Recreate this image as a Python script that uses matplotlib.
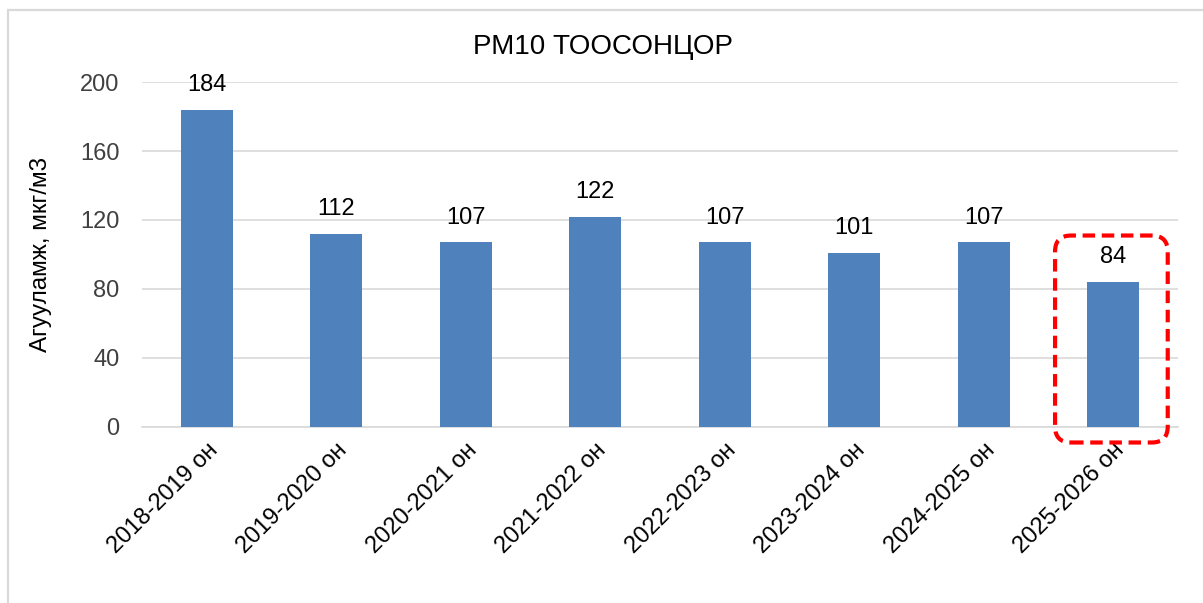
import matplotlib
matplotlib.use("Agg")
import matplotlib.pyplot as plt
from matplotlib.patches import FancyBboxPatch, Rectangle
from matplotlib.transforms import IdentityTransform

# Datos del gráfico
seasons = ["2018-2019 он", "2019-2020 он", "2020-2021 он", "2021-2022 он",
           "2022-2023 он", "2023-2024 он", "2024-2025 он", "2025-2026 он"]
pm10 = [184, 112, 107, 122, 107, 101, 107, 84]
y_ticks = [0, 40, 80, 120, 160, 200]

plt.rcParams["font.family"] = ["Liberation Sans", "DejaVu Sans"]

fig = plt.figure(figsize=(12.03, 6.03), dpi=100)
ax = fig.add_axes([0.118, 0.2919, 0.8613, 0.5721])

x = range(len(seasons))
ax.bar(x, pm10, width=0.4, color="#4f81bd", zorder=3)

# etiquetas de valores sobre las barras
for i, v in zip(x, pm10):
    ax.annotate(str(v), (i, v), xytext=(0, 10), textcoords="offset points",
                ha="center", va="bottom", fontsize=17, color="black")

ax.set_xlim(-0.5, len(seasons) - 0.5)
ax.set_ylim(0, 200)
ax.set_yticks(y_ticks)
ax.set_xticks(list(x))
ax.set_xticklabels(seasons, rotation=45, ha="right", rotation_mode="anchor",
                   fontsize=17, color="black")
ax.tick_params(axis="y", labelsize=17, labelcolor="#404040", length=0, pad=16)
ax.tick_params(axis="x", length=0, pad=9)

ax.yaxis.grid(True, color="#d9d9d9", linewidth=1.2, zorder=0)
ax.set_axisbelow(True)
for side in ["top", "right", "left"]:
    ax.spines[side].set_visible(False)
ax.spines["bottom"].set_color("#d9d9d9")
ax.spines["bottom"].set_linewidth(1.2)

ax.set_ylabel("Агууламж, мкг/м3", fontsize=17.5, labelpad=20)

# título centrado en la figura
fig.text(603 / 1203, 1 - 47 / 603, "РМ10 ТООСОНЦОР", fontsize=20,
         ha="center", va="center")

# recuadro rojo punteado alrededor de la última barra
last = len(seasons) - 1
p0 = ax.transData.transform((last - 0.45, -9))
p1 = ax.transData.transform((last + 0.42, pm10[last] + 27))
box = FancyBboxPatch((p0[0], p0[1]), p1[0] - p0[0], p1[1] - p0[1],
                     boxstyle="round,pad=0,rounding_size=16",
                     transform=IdentityTransform(), fill=False,
                     edgecolor="#ff0000", linewidth=3,
                     linestyle=(0, (3, 1.6)), clip_on=False, zorder=5)
fig.add_artist(box)

# borde gris de la figura
fig.add_artist(Rectangle((8 / 1203, -0.1), 1.2, 1.1 - 10 / 603,
                         transform=fig.transFigure, fill=False,
                         edgecolor="#d9d9d9", linewidth=1.6))

fig.savefig("out.png", dpi=100)
